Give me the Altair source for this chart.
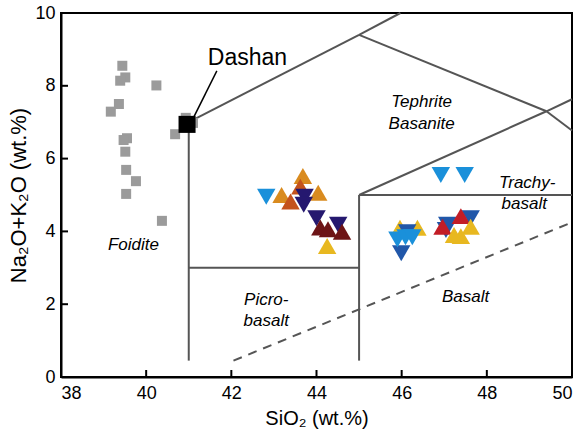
import altair as alt
import pandas as pd

# ---- data ----
sq_x = [39.44, 39.51, 39.39, 40.24, 39.36, 39.17, 40.93, 41.10, 40.68, 39.55, 39.47, 39.51, 39.53, 39.76, 39.53, 40.37]
sq_y = [8.55, 8.23, 8.14, 8.01, 7.50, 7.29, 7.12, 6.98, 6.67, 6.56, 6.51, 6.19, 5.69, 5.38, 5.03, 4.29]

dashan_x = [40.96]
dashan_y = [6.94]

tri_x = [43.18, 43.68, 44.04, 43.62, 43.39, 43.72, 43.70, 44.00, 44.09, 44.27, 44.51, 44.60, 44.25,
         42.82, 46.92, 47.48, 45.96, 46.37, 46.13, 45.99, 45.90, 46.09, 46.25,
         47.07, 47.62, 47.04, 47.39, 46.96, 47.62, 47.39, 47.23]
tri_y = [5.00, 5.52, 5.06, 5.23, 4.82, 4.95, 4.73, 4.36, 4.11, 4.06, 4.18, 3.99, 3.60,
         4.95, 5.55, 5.55, 4.10, 4.10, 3.98, 3.40, 3.78, 3.84, 3.84,
         4.18, 4.36, 4.04, 4.42, 4.13, 4.13, 3.87, 3.90]
tri_grp = ["A", "A", "A", "B", "B", "C", "C", "C", "D", "D", "C", "D", "E",
           "F", "F", "F", "E", "E", "G", "G", "F", "F", "F",
           "G", "G", "G", "H", "H", "E", "E", "E"]
grp_names = ["A", "B", "C", "D", "E", "F", "G", "H"]
grp_colors = ["#d98b1f", "#c4521c", "#25186f", "#6d1416", "#e8b820", "#1a90da", "#2157a9", "#c21d26"]
grp_dir = ["up", "up", "down", "up", "up", "down", "down", "up"]

# TAS field boundaries
seg_x1 = [41.0, 41.0, 45.0, 45.0, 49.4, 45.0, 49.4, 45.0, 45.0, 41.0]
seg_y1 = [0.45, 7.0, 9.4, 9.4, 7.3, 5.0, 7.3, 5.0, 0.45, 3.0]
seg_x2 = [41.0, 45.0, 45.97, 49.4, 50.0, 49.4, 50.0, 50.0, 45.0, 45.0]
seg_y2 = [7.0, 9.4, 10.0, 7.3, 6.77, 7.3, 7.63, 5.0, 5.0, 3.0]

dash_x1, dash_y1, dash_x2, dash_y2 = [42.05], [0.45], [50.0], [4.25]

field_labels = ["Foidite", "Picro-", "basalt", "Tephrite", "Basanite", "Trachy-", "basalt", "Basalt"]
field_x = [39.7, 42.82, 42.82, 46.47, 46.47, 48.95, 48.88, 47.5]
field_y = [3.63, 2.12, 1.54, 7.55, 6.95, 5.33, 4.75, 2.2]

leader_x1, leader_y1, leader_x2, leader_y2 = [41.1], [7.1], [41.66], [8.41]
dashan_lbl_x, dashan_lbl_y = [42.38], [8.76]

x_ticks = [38, 40, 42, 44, 46, 48, 50]
y_ticks = [0, 2, 4, 6, 8, 10]

# ---- chart ----
W, H = 511, 364
FONT = "Liberation Sans"

xsc = alt.Scale(domain=[38, 50], nice=False, zero=False)
ysc = alt.Scale(domain=[0, 10], nice=False, zero=False)
xax = alt.Axis(values=x_ticks, ticks=False, grid=False, labelPadding=7, title="SiO₂ (wt.%)",
               titlePadding=6, titleFontSize=20, domainColor="black", domainWidth=2)
yax = alt.Axis(values=y_ticks, ticks=False, grid=False, labelPadding=6, title="Na₂O+K₂O (wt.%)",
               titlePadding=4, titleFontSize=22, domainColor="black", domainWidth=2)

def X(f):
    return alt.X(f, type="quantitative", scale=xsc, axis=xax)

def Y(f):
    return alt.Y(f, type="quantitative", scale=ysc, axis=yax)

segs = pd.DataFrame({"x1": seg_x1, "y1": seg_y1, "x2": seg_x2, "y2": seg_y2})
bounds = alt.Chart(segs).mark_rule(color="#555555", strokeWidth=2).encode(
    x=X("x1"), y=Y("y1"), x2="x2", y2="y2")

dash = alt.Chart(pd.DataFrame({"x1": dash_x1, "y1": dash_y1, "x2": dash_x2, "y2": dash_y2})).mark_rule(
    color="#555555", strokeWidth=2, strokeDash=[9, 7]).encode(x=X("x1"), y=Y("y1"), x2="x2", y2="y2")

squares = alt.Chart(pd.DataFrame({"x": sq_x, "y": sq_y})).mark_point(
    shape="square", filled=True, color="#9b9b9b", size=100, opacity=1).encode(x=X("x"), y=Y("y"))

dashan = alt.Chart(pd.DataFrame({"x": dashan_x, "y": dashan_y})).mark_point(
    shape="square", filled=True, color="black", size=290, opacity=1).encode(x=X("x"), y=Y("y"))

dir_map = dict(zip(grp_names, grp_dir))
tri_df = pd.DataFrame({"x": tri_x, "y": tri_y, "g": tri_grp, "order": list(range(len(tri_x)))})
tri_df["d"] = tri_df["g"].map(dir_map)
tris = alt.Chart(tri_df).mark_point(filled=True, size=340, opacity=1).encode(
    x=X("x"), y=Y("y"),
    color=alt.Color("g:N", scale=alt.Scale(domain=grp_names, range=grp_colors), legend=None),
    shape=alt.Shape("d:N", scale=alt.Scale(domain=["up", "down"], range=["triangle-up", "triangle-down"]), legend=None),
    order=alt.Order("order:Q"))

leader = alt.Chart(pd.DataFrame({"x1": leader_x1, "y1": leader_y1, "x2": leader_x2, "y2": leader_y2})).mark_rule(
    color="black", strokeWidth=1.5).encode(x=X("x1"), y=Y("y1"), x2="x2", y2="y2")

dlabel = alt.Chart(pd.DataFrame({"x": dashan_lbl_x, "y": dashan_lbl_y, "t": ["Dashan"]})).mark_text(
    font=FONT, fontSize=23, color="black").encode(x=X("x"), y=Y("y"), text="t:N")

flabels = alt.Chart(pd.DataFrame({"x": field_x, "y": field_y, "t": field_labels})).mark_text(
    font=FONT, fontSize=17, fontStyle="italic", color="black").encode(x=X("x"), y=Y("y"), text="t:N")

xt = alt.Chart(pd.DataFrame({"v": x_ticks})).mark_rule(color="black", strokeWidth=2).encode(
    x=X("v"), y=alt.value(H), y2=alt.value(H - 7))
yt = alt.Chart(pd.DataFrame({"v": y_ticks})).mark_rule(color="black", strokeWidth=2).encode(
    y=Y("v"), x=alt.value(0), x2=alt.value(7))

chart = alt.layer(bounds, dash, squares, dashan, tris, leader, dlabel, flabels, xt, yt).properties(
    width=W, height=H,
    autosize=alt.AutoSizeParams(type="none"),
    padding={"left": 61, "top": 13, "right": 12, "bottom": 59},
).configure_view(stroke="black", strokeWidth=2).configure_axis(
    labelFont=FONT, titleFont=FONT, labelFontSize=18,
    labelColor="black", titleColor="black", titleFontWeight="normal")

chart.save("out.html", embed_options={"renderer": "svg", "actions": False})
